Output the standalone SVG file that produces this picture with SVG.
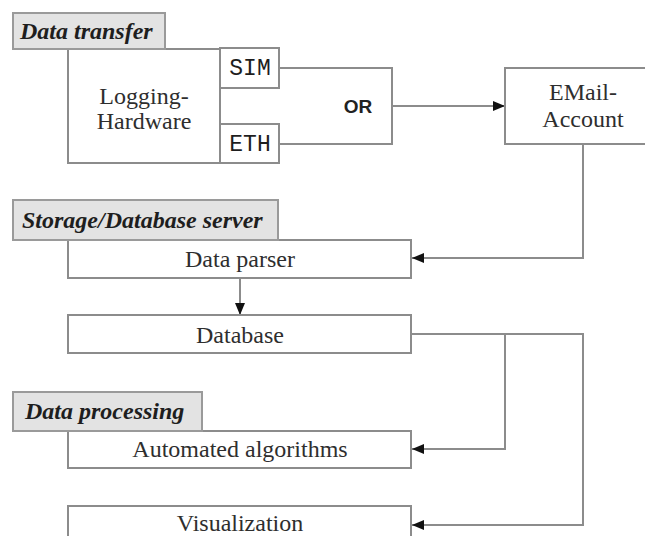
<svg xmlns="http://www.w3.org/2000/svg" width="645" height="536" viewBox="0 0 645 536">
<defs>
<style>
.box{fill:#fff;stroke:#8c8c8c;stroke-width:2}
.lbl{fill:#e3e3e3;stroke:#9a9a9a;stroke-width:2}
.t{font-family:"Liberation Serif","Times New Roman",serif;font-size:24px;fill:#2e2e2e;text-anchor:middle}
.lt{font-family:"Liberation Serif","Times New Roman",serif;font-size:24px;font-weight:bold;font-style:italic;fill:#1e1e1e}
.m{font-family:"Liberation Mono","Courier New",monospace;font-size:23px;fill:#1e1e1e;text-anchor:middle}
.or{font-family:"Liberation Sans",Arial,sans-serif;font-size:19px;font-weight:bold;fill:#222;text-anchor:middle}
.c{fill:none;stroke:#8c8c8c;stroke-width:2}
</style>
<marker id="ah" viewBox="0 0 12 10" refX="12" refY="5" markerWidth="12" markerHeight="10" markerUnits="userSpaceOnUse" orient="auto">
<path d="M0,0 L12,5 L0,10 Z" fill="#111"/>
</marker>
</defs>
<rect width="645" height="536" fill="#fff"/>

<g id="connectors">
<path class="c" d="M279,68 H392 V144 H279"/>
<path class="c" d="M392,106 H505" marker-end="url(#ah)"/>
<path class="c" d="M583,144 V258 H412" marker-end="url(#ah)"/>
<path class="c" d="M240,278 V315" marker-end="url(#ah)"/>
<path class="c" d="M412,334 H505 V449 H412" marker-end="url(#ah)"/>
<path class="c" d="M505,334 H583 V525 H412" marker-end="url(#ah)"/>
</g>

<g id="logging-hardware">
<rect class="box" x="68" y="49" width="152" height="114"/>
<text class="t" x="144" y="104">Logging-</text>
<text class="t" x="144" y="129">Hardware</text>
</g>
<g id="sim">
<rect class="box" x="220" y="48" width="59" height="40"/>
<text class="m" x="250" y="75">SIM</text>
</g>
<g id="eth">
<rect class="box" x="220" y="124" width="59" height="39"/>
<text class="m" x="250" y="151">ETH</text>
</g>
<g id="or">
<text class="or" x="358" y="113">OR</text>
</g>
<g id="email-account">
<rect class="box" x="505" y="68" width="160" height="76"/>
<text class="t" x="583" y="100">EMail-</text>
<text class="t" x="583" y="127">Account</text>
</g>
<g id="data-transfer-label">
<rect class="lbl" x="13" y="13" width="152" height="36"/>
<text class="lt" x="20" y="39">Data transfer</text>
</g>

<g id="data-parser">
<rect class="box" x="68" y="240" width="343" height="38"/>
<text class="t" x="240" y="267">Data parser</text>
</g>
<g id="database">
<rect class="box" x="68" y="315" width="343" height="38"/>
<text class="t" x="240" y="343">Database</text>
</g>
<g id="storage-label">
<rect class="lbl" x="13" y="200" width="265" height="40"/>
<text class="lt" x="22" y="228">Storage/Database server</text>
</g>

<g id="automated-algorithms">
<rect class="box" x="68" y="431" width="343" height="37"/>
<text class="t" x="240" y="457">Automated algorithms</text>
</g>
<g id="visualization">
<rect class="box" x="68" y="506" width="343" height="38"/>
<text class="t" x="240" y="531">Visualization</text>
</g>
<g id="processing-label">
<rect class="lbl" x="13" y="392" width="189" height="39"/>
<text class="lt" x="25" y="419">Data processing</text>
</g>
</svg>
